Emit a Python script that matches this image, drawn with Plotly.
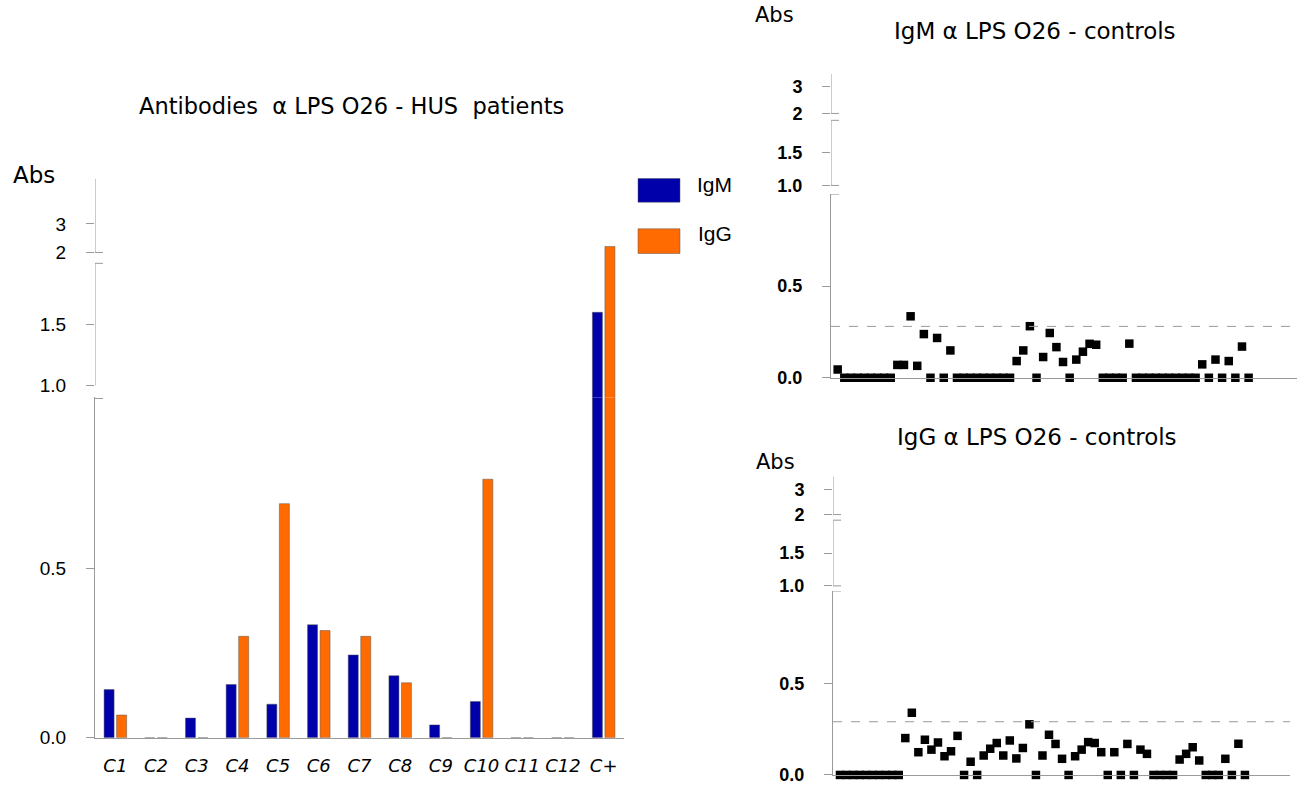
import plotly.graph_objects as go

W, H = 1308, 804

# ------------------------------------------------------------------ data
patients = ["C1", "C2", "C3", "C4", "C5", "C6", "C7", "C8", "C9", "C10", "C11", "C12", "C+"]
igm_patients = [0.142, 0, 0.058, 0.157, 0.099, 0.333, 0.244, 0.183, 0.038, 0.107, 0, 0, 1.60]
igg_patients = [0.067, 0, 0, 0.299, 0.690, 0.316, 0.299, 0.162, 0, 0.762, 0, 0, 2.21]

controls = list(range(1, 64))
igm_controls = [0.045, 0, 0, 0, 0, 0, 0, 0, 0, 0.07, 0.07, 0.335, 0.065, 0.238, 0, 0.217, 0, 0.149,
                0, 0, 0, 0, 0, 0, 0, 0, 0, 0.091, 0.149, 0.281, 0, 0.113, 0.244, 0.167, 0.086, 0,
                0.099, 0.142, 0.185, 0.18, 0, 0, 0, 0, 0.186, 0, 0, 0, 0, 0, 0, 0, 0, 0, 0,
                0.073, 0, 0.099, 0, 0.091, 0, 0.17, 0]
igg_controls = [0, 0, 0, 0, 0, 0, 0, 0, 0, 0, 0.201, 0.339, 0.124, 0.192, 0.138, 0.177, 0.102, 0.129,
                0.213, 0, 0.072, 0, 0.106, 0.143, 0.174, 0.106, 0.188, 0.09, 0.147, 0.276, 0,
                0.106, 0.219, 0.169, 0.088, 0, 0.102, 0.138, 0.179, 0.174, 0.124, 0, 0.124, 0,
                0.169, 0, 0.138, 0.115, 0, 0, 0, 0, 0.084, 0.115, 0.151, 0.079, 0, 0, 0,
                0.088, 0, 0.17, 0]
igm_cutoff = 0.28
igg_cutoff = 0.29

seg_ticks = {"A": ([0, 0.5], ["0.0", "0.5"]), "B": ([1.0, 1.5], ["1.0", "1.5"]), "C": ([2, 3], ["2", "3"])}

# ------------------------------------------------------------------ helpers
def py(p):
    return 1 - p / H


def px(p):
    return p / W


def segment(p_bottom, p_top, v_a, p_a, v_b, p_b):
    scale = (p_a - p_b) / (v_b - v_a)
    lo = v_a - (p_bottom - p_a) / scale
    hi = v_a + (p_a - p_top) / scale
    return [py(p_bottom), py(p_top)], [lo, hi]


BLUE = "#0000AA"
ORANGE = "#FF6B00"
AX = "#9a9a9a"
EDGE = "rgba(80,80,80,0.6)"
NUMFONT = "Liberation Sans, Arial, sans-serif"
HANDFONT = "DejaVu Sans, sans-serif"

fig = go.Figure()
shapes = []
layout_axes = {}

# ------------------------------------------------------------------ left bar chart (broken y axis)
left_x_range = [-0.5, 12.5]
segL = {
    "A": segment(748, 403, 0, 748, 0.5, 576),
    "B": segment(403, 261.5, 1.0, 391, 2.0, 267),
    "C": segment(261.5, 181, 2, 256, 3, 227),
}
left_axes = {"A": "y", "B": "y2", "C": "y3"}

for key, yref in left_axes.items():
    fig.add_trace(go.Bar(x=patients, y=igm_patients, name="IgM", marker_color=BLUE,
                         marker_line=dict(color=EDGE, width=0.8),
                         xaxis="x", yaxis=yref, showlegend=False))
    fig.add_trace(go.Bar(x=patients, y=igg_patients, name="IgG", marker_color=ORANGE,
                         marker_line=dict(color=EDGE, width=0.8),
                         xaxis="x", yaxis=yref, showlegend=False))

layout_axes["xaxis"] = dict(domain=[px(95), px(624)], anchor="y", range=left_x_range,
                            showline=True, linecolor=AX, linewidth=1, ticks="", showgrid=False,
                            zeroline=False, ticklabelstandoff=12,
                            tickfont=dict(family=HANDFONT, size=18, color="black", style="italic"))
for key, yref in left_axes.items():
    dom, rng = segL[key]
    name = "yaxis" if yref == "y" else "yaxis" + yref[1:]
    tv, tt = seg_ticks[key]
    layout_axes[name] = dict(domain=dom, range=rng, anchor="x", showline=(key == "A"),
                             linecolor=AX, linewidth=1, ticks="outside", ticklen=8, tickcolor=AX,
                             tickvals=tv, ticktext=tt, showgrid=False, zeroline=False,
                             ticklabelstandoff=16,
                             tickfont=dict(family=NUMFONT, size=19, color="black"))

shapes.append(dict(type="line", xref="x", yref="y2", x0=-0.5, x1=-0.5, y0=1.0, y1=2.0,
                   line=dict(color=AX, width=1)))
shapes.append(dict(type="line", xref="x", yref="y3", x0=-0.5, x1=-0.5, y0=2.0, y1=segL["C"][1][1],
                   line=dict(color=AX, width=1)))
for yref, val in [("y", 1.0), ("y2", 2.0), ("y3", 2.0)]:
    shapes.append(dict(type="line", xref="x", yref=yref, xsizemode="pixel", xanchor=-0.5,
                       x0=-8, x1=8, y0=val, y1=val, line=dict(color=AX, width=1)))


# ------------------------------------------------------------------ right scatter charts
def scatter_panel(values, cutoff, xname, yids, xdom, xrange, segs, dash_end):
    xa = "x" + xname[5:]
    for key, yid in zip(["A", "B", "C"], yids):
        fig.add_trace(go.Scatter(x=controls, y=values, mode="markers",
                                 marker=dict(symbol="square", size=8.5, color="black"),
                                 xaxis=xa, yaxis="y" + str(yid), showlegend=False,
                                 cliponaxis=(key != "A"),
                                 hoverinfo="x+y" if key == "A" else "skip"))
        dom, rng = segs[key]
        tv, tt = seg_ticks[key]
        layout_axes["yaxis" + str(yid)] = dict(
            domain=dom, range=rng, anchor=xa, showline=(key == "A"), linecolor=AX, linewidth=1,
            ticks="outside", ticklen=8, tickcolor=AX, tickvals=tv, ticktext=tt, showgrid=False,
            zeroline=False, ticklabelstandoff=16,
            tickfont=dict(family=NUMFONT, size=18, color="black", weight="bold"))
    layout_axes[xname] = dict(domain=xdom, anchor="y" + str(yids[0]), range=xrange, showline=True,
                              linecolor=AX, linewidth=1, ticks="", showticklabels=False,
                              showgrid=False, zeroline=False)
    x0 = xrange[0]
    shapes.append(dict(type="line", xref=xa, yref="y" + str(yids[1]), x0=x0, x1=x0, y0=1.0, y1=2.0,
                       line=dict(color=AX, width=1)))
    shapes.append(dict(type="line", xref=xa, yref="y" + str(yids[2]), x0=x0, x1=x0, y0=2.0,
                       y1=segs["C"][1][1], line=dict(color=AX, width=1)))
    for yid, val in [(yids[0], 1.0), (yids[1], 1.0), (yids[1], 2.0), (yids[2], 2.0)]:
        shapes.append(dict(type="line", xref=xa, yref="y" + str(yid), xsizemode="pixel", xanchor=x0,
                           x0=-8, x1=8, y0=val, y1=val, line=dict(color=AX, width=1)))
    shapes.append(dict(type="line", xref=xa, yref="y" + str(yids[0]), x0=x0, x1=dash_end,
                       y0=cutoff, y1=cutoff, line=dict(color=AX, width=1, dash="dash")))


segM = {
    "A": segment(383, 197, 0, 383, 0.5, 290),
    "B": segment(197, 118.5, 1.0, 188, 1.5, 155),
    "C": segment(118.5, 75, 2, 115, 3, 88),
}
segG = {
    "A": segment(785.7, 599.7, 0, 785.7, 0.5, 692.7),
    "B": segment(599.7, 524.5, 1.0, 594, 1.5, 560.7),
    "C": segment(524.5, 483, 2, 521.7, 3, 496),
}
scatter_panel(igm_controls, igm_cutoff, "xaxis2", [4, 5, 6], [px(831), px(1297)], [-0.01, 70.3],
              segM, 69.3)
scatter_panel(igg_controls, igg_cutoff, "xaxis3", [7, 8, 9], [px(833), px(1290)], [-0.07, 69.9],
              segG, 69.9)

# ------------------------------------------------------------------ legend (drawn)
shapes.append(dict(type="rect", xref="paper", yref="paper", x0=px(638), x1=px(680), y0=py(205), y1=py(181),
                   fillcolor=BLUE, line=dict(color=EDGE, width=0.8)))
shapes.append(dict(type="rect", xref="paper", yref="paper", x0=px(638), x1=px(680), y0=py(257), y1=py(232),
                   fillcolor=ORANGE, line=dict(color=EDGE, width=0.8)))

annotations = []


def label(text, x, y, size, family=HANDFONT, anchor="center", **kw):
    annotations.append(dict(text=text, x=px(x), y=py(y), xref="paper", yref="paper", showarrow=False,
                            xanchor=anchor, yanchor="middle",
                            font=dict(family=family, size=size, color="black", **kw)))


NB = "\u00a0"
label("Antibodies" + NB * 2 + "α LPS O26 - HUS" + NB * 2 + "patients", 351, 107, 22.5)
label("Abs", 11, 177, 23, anchor="left")
label("IgM", 695, 187, 21, family=NUMFONT, anchor="left")
label("IgG", 696, 237, 21, family=NUMFONT, anchor="left")
label("Abs", 753, 15, 21, anchor="left")
label("IgM α LPS O26 - controls", 1035, 31, 23)
label("IgG α LPS O26 - controls", 1037, 443, 23)
label("Abs", 754, 468, 21, anchor="left")

fig.update_layout(
    width=W, height=H, margin=dict(l=0, r=0, t=0, b=0),
    paper_bgcolor="white", plot_bgcolor="white",
    barmode="group", bargap=0.385, bargroupgap=0.2,
    showlegend=False, shapes=shapes, annotations=annotations,
    **layout_axes,
)

fig.write_html("out.html", config={"displayModeBar": False},
               post_script="document.body.style.margin='0';")
